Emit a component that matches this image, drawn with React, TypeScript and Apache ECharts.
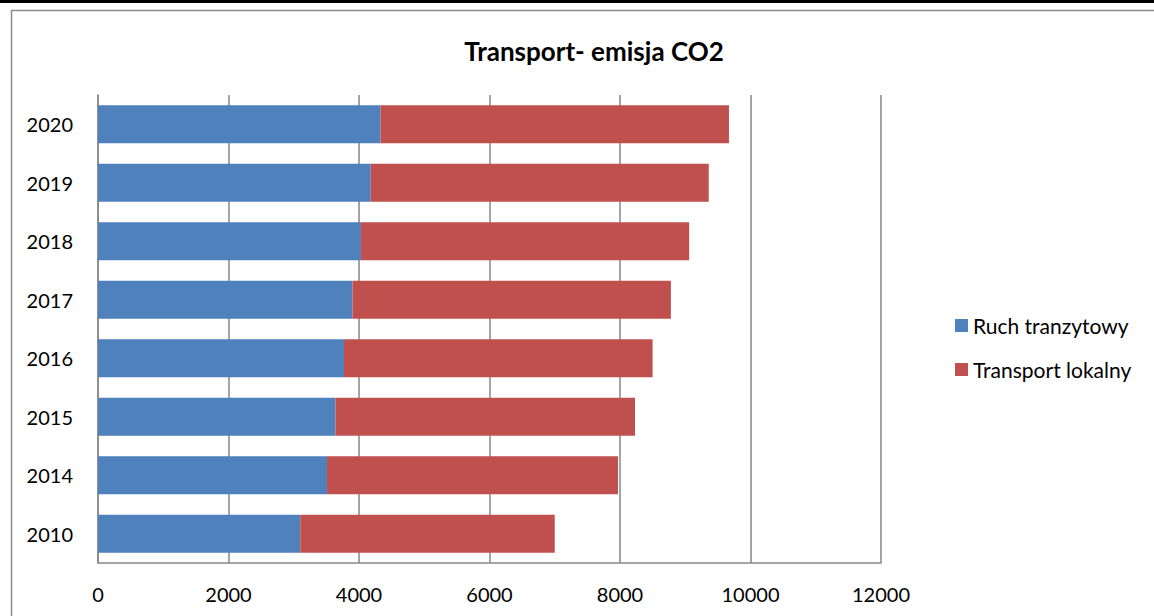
import React, { useEffect, useRef } from "react";
import * as echarts from "echarts";

const years = ["2010", "2014", "2015", "2016", "2017", "2018", "2019", "2020"];
const transit = [3100, 3510, 3640, 3770, 3900, 4030, 4180, 4330];
const local = [3900, 4460, 4590, 4730, 4880, 5030, 5180, 5340];
const seriesNames = ["Ruch tranzytowy", "Transport lokalny"];
const titleText = "Transport- emisja CO2";

const FONT = "Lato";

export default function App() {
  const ref = useRef<HTMLDivElement>(null);
  useEffect(() => {
    if (!ref.current) return;
    const chart = echarts.init(ref.current, null, { renderer: "svg" });
    chart.setOption({
      animation: false,
      backgroundColor: "#ffffff",
      textStyle: { fontFamily: FONT },
      title: {
        text: titleText,
        left: 589,
        textAlign: "center",
        top: 33,
        textStyle: { fontFamily: FONT, fontWeight: "bold", fontSize: 26, color: "#000" },
      },
      graphic: [
        { type: "rect", shape: { x: 0, y: 0, width: 1154, height: 3 }, style: { fill: "#000" } },
        {
          type: "polyline",
          shape: { points: [[11.5, 640], [11.5, 10.5], [1160, 10.5]] },
          style: { stroke: "#8a8a8a", lineWidth: 1.5, fill: "none" },
        },
      ],
      legend: {
        orient: "vertical",
        left: 950,
        top: 310,
        itemWidth: 13,
        itemHeight: 13,
        itemGap: 23,
        icon: "rect",
        textStyle: { fontFamily: FONT, fontSize: 21, color: "#000", lineHeight: 20 },
        data: seriesNames,
      },
      grid: { left: 98, right: 273, top: 95, bottom: 53, containLabel: false },
      xAxis: {
        type: "value",
        min: 0,
        max: 12000,
        interval: 2000,
        axisLine: { show: true, lineStyle: { color: "#878787", width: 1.5 } },
        axisTick: { show: false },
        axisLabel: {
          fontFamily: FONT,
          fontSize: 20,
          color: "#000",
          margin: 21,
          formatter: (v: number) => String(v),
        },
        splitLine: { show: true, lineStyle: { color: "#878787", width: 1.5 } },
      },
      yAxis: {
        type: "category",
        data: years,
        axisLine: { show: true, lineStyle: { color: "#878787", width: 1.5 } },
        axisTick: { show: false },
        axisLabel: { fontFamily: FONT, fontSize: 20, color: "#000", margin: 25 },
        splitLine: { show: false },
      },
      series: [
        {
          name: seriesNames[0],
          type: "bar",
          stack: "total",
          data: transit,
          barCategoryGap: "35%",
          itemStyle: { color: "#4F81BD" },
        },
        {
          name: seriesNames[1],
          type: "bar",
          stack: "total",
          data: local,
          barCategoryGap: "35%",
          itemStyle: { color: "#C0504D" },
        },
      ],
    });
    return () => chart.dispose();
  }, []);
  return (
    <div
      ref={ref}
      style={{ position: "fixed", left: 0, top: 0, width: 1154, height: 616 }}
    />
  );
}
